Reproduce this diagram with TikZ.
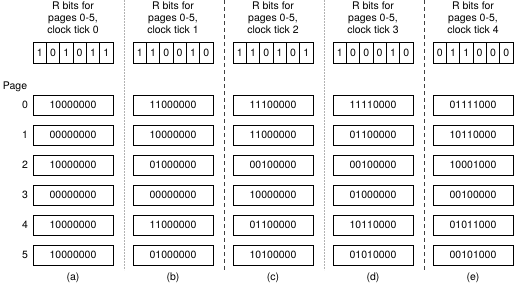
\documentclass[tikz,border=0pt]{standalone}
\usepackage{fontspec}
\setmainfont{TeX Gyre Heros}
\usetikzlibrary{positioning}

\begin{document}
\begin{tikzpicture}[x=1pt,y=-1pt,font=\fontsize{10.5}{12}\selectfont,
   counter/.style={draw,line width=0.8pt,minimum width=80pt,minimum height=20pt,inner sep=0pt},
   bitcell/.style={draw,line width=0.8pt,minimum width=13.33pt,minimum height=21pt,inner sep=0pt},
   lightsep/.style={draw=gray!60,line width=0.9pt,dash pattern=on 2pt off 1pt},
   darksep/.style={draw=black!75,line width=0.7pt,dash pattern=on 4pt off 3pt}]
  \useasboundingbox (0,0) rectangle (524,293);
  % page numbers
  \node (page) at (15,87) {Page};
  \foreach \p in {0,...,5}
    \node (num\p) at (25,105+30*\p) {\p};
  % separators between the clock ticks
  \foreach \s/\sty in {124/lightsep,224/darksep,324/lightsep,424/darksep}
    \draw[\sty] (\s,0) -- (\s,270);
  % one column per clock tick
  \foreach \c/\x/\t/\bits/\vals in {
      a/73/0/{1,0,1,0,1,1}/{10000000,00000000,10000000,00000000,10000000,10000000},
      b/173/1/{1,1,0,0,1,0}/{11000000,10000000,01000000,00000000,11000000,01000000},
      c/273/2/{1,1,0,1,0,1}/{11100000,11000000,00100000,10000000,01100000,10100000},
      d/373/3/{1,0,0,0,1,0}/{11110000,01100000,00100000,01000000,10110000,01010000},
      e/473/4/{0,1,1,0,0,0}/{01111000,10110000,10001000,00100000,01011000,00101000}}
  {
    \node[align=center] (head-\c) at (\x,18) {R bits for\\pages 0-5,\\clock tick \t};
    \foreach \b [count=\i from 0] in \bits
      \node[bitcell] (bit-\c-\i) at ({\x-33.33+13.33*\i},53) {\b};
    \foreach \v [count=\p from 0] in \vals
      \node[counter] (cnt-\c-\p) at (\x,105+30*\p) {\v};
    \node (cap-\c) at (\x,278) {(\c)};
  }
\end{tikzpicture}
\end{document}
